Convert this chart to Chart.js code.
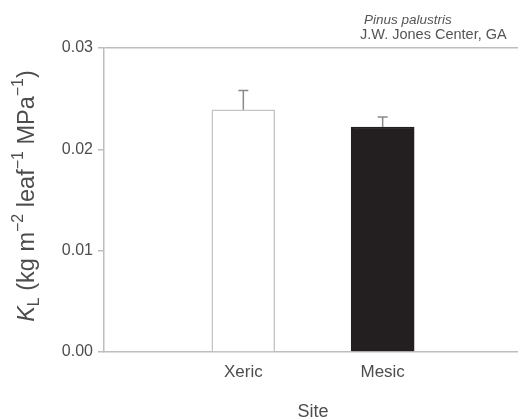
<!DOCTYPE html>
<html lang="en">
<head>
    <meta charset="UTF-8">
    <title>Leaf-specific conductance by site</title>
    <script src="https://cdn.jsdelivr.net/npm/chart.js"></script>
    <style>
        html, body { margin: 0; padding: 0; background: #fff; overflow: hidden; }
        #kChart { display: block; }
    </style>
</head>
<body>
    <canvas id="kChart" width="522" height="419"></canvas>

    <script>
        // data
        var sites = ['', 'Xeric', 'Mesic', ''];
        var kMeans = [null, 0.0239, 0.0222, null];
        var kErrors = [null, 0.0019, 0.0010, null];
        var yTicks = [0.00, 0.01, 0.02, 0.03];

        var axisGray = '#bdbdbd';
        var textGray = '#4d4d4d';
        var fontFamily = '"Liberation Sans", Arial, sans-serif';

        // error bars (upper half only), drawn from the bar elements and y scale
        var errorBars = {
            id: 'errorBars',
            afterDatasetsDraw: function (chart) {
                var ctx = chart.ctx;
                var y = chart.scales.y;
                var meta = chart.getDatasetMeta(0);
                ctx.save();
                ctx.strokeStyle = '#8a8a8a';
                ctx.lineWidth = 1.5;
                meta.data.forEach(function (bar, i) {
                    if (kMeans[i] == null) return;
                    var top = y.getPixelForValue(kMeans[i] + kErrors[i]);
                    ctx.beginPath();
                    ctx.moveTo(bar.x, bar.y);
                    ctx.lineTo(bar.x, top);
                    ctx.moveTo(bar.x - 5, top);
                    ctx.lineTo(bar.x + 5, top);
                    ctx.stroke();
                });
                ctx.restore();
            }
        };

        // rotated y title with sub/superscripts + species note
        var extraText = {
            id: 'extraText',
            afterDraw: function (chart) {
                var ctx = chart.ctx;
                var big = '23.5px ' + fontFamily;
                var bigIt = 'italic 23.5px ' + fontFamily;
                var small = '16px ' + fontFamily;
                var parts = [
                    ['K', bigIt, 0],
                    ['L', small, 5],
                    [' (kg m', big, 0],
                    ['\u22122', small, -11],
                    [' leaf', big, 0],
                    ['\u22121', small, -11],
                    [' MPa', big, 0],
                    ['\u22121', small, -11],
                    [')', big, 0]
                ];
                ctx.save();
                ctx.fillStyle = textGray;
                ctx.textBaseline = 'alphabetic';
                var total = 0;
                parts.forEach(function (p) { ctx.font = p[1]; total += ctx.measureText(p[0]).width; });
                ctx.translate(34, 196);
                ctx.rotate(-Math.PI / 2);
                var u = -total / 2;
                parts.forEach(function (p) {
                    ctx.font = p[1];
                    ctx.fillText(p[0], u, p[2]);
                    u += ctx.measureText(p[0]).width;
                });
                ctx.restore();

                ctx.save();
                ctx.fillStyle = '#555';
                ctx.textBaseline = 'middle';
                ctx.font = 'italic 13.5px ' + fontFamily;
                ctx.fillText('Pinus palustris', 364, 20);
                ctx.font = '14.5px ' + fontFamily;
                ctx.fillText('J.W. Jones Center, GA', 360, 35);
                ctx.restore();
            }
        };

        var ctx = document.getElementById('kChart').getContext('2d');
        var kChart = new Chart(ctx, {
            type: 'bar',
            data: {
                labels: sites,
                datasets: [{
                    data: kMeans,
                    backgroundColor: ['#fff', '#fff', '#231f20', '#fff'],
                    borderColor: ['#c4c4c4', '#c4c4c4', '#231f20', '#c4c4c4'],
                    borderWidth: 1.5,
                    borderSkipped: 'bottom',
                    barThickness: 63
                }]
            },
            options: {
                responsive: false,
                animation: false,
                layout: { padding: { top: 48, left: 0, right: 0, bottom: 0 } },
                plugins: {
                    legend: { display: false },
                    tooltip: { enabled: false }
                },
                scales: {
                    x: {
                        offset: false,
                        afterFit: function (s) { s.height = 67; },
                        grid: {
                            drawOnChartArea: false,
                            drawTicks: true,
                            tickLength: 10,
                            color: 'rgba(0,0,0,0)',
                            tickColor: 'rgba(0,0,0,0)'
                        },
                        border: { display: true, color: axisGray, width: 1.5 },
                        ticks: {
                            color: textGray,
                            padding: 0,
                            font: { family: fontFamily, size: 17 }
                        },
                        title: {
                            display: true,
                            text: 'Site',
                            color: textGray,
                            padding: { top: 0, bottom: 0 },
                            font: { family: fontFamily, size: 18, lineHeight: 0.8 }
                        }
                    },
                    y: {
                        min: 0,
                        max: 0.03,
                        afterFit: function (s) { s.width = 104; },
                        afterBuildTicks: function (s) {
                            s.ticks = yTicks.map(function (v) { return { value: v }; });
                        },
                        grid: {
                            color: function (c) {
                                return c.tick && Math.abs(c.tick.value - 0.03) < 1e-9 ? axisGray : 'rgba(0,0,0,0)';
                            },
                            tickColor: axisGray,
                            tickLength: 6,
                            lineWidth: 1.5
                        },
                        border: { display: true, color: axisGray, width: 1.5 },
                        ticks: {
                            color: textGray,
                            padding: 5,
                            font: { family: fontFamily, size: 16 },
                            callback: function (v) { return v.toFixed(2); }
                        }
                    }
                }
            },
            plugins: [errorBars, extraText]
        });
    </script>
</body>
</html>
